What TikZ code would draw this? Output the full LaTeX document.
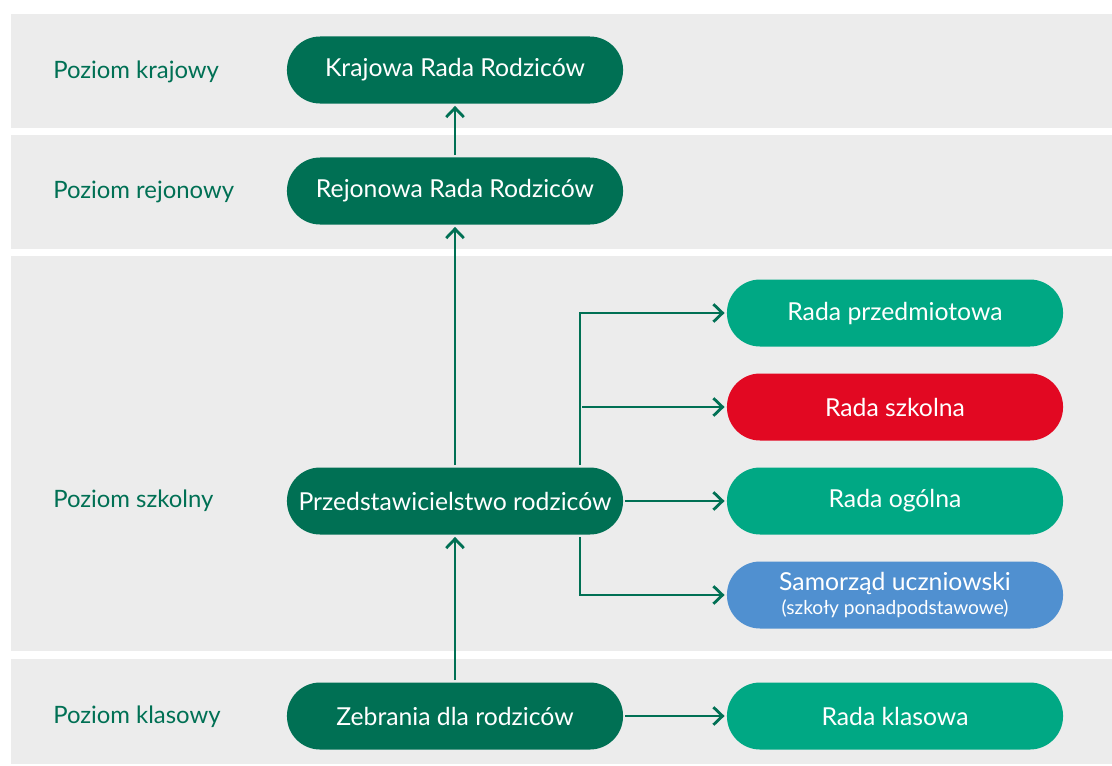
\documentclass[tikz,border=0pt]{standalone}
\usepackage{fontspec}
\setmainfont{Lato}
\usetikzlibrary{shapes,arrows.meta,positioning}

\definecolor{darkgreen}{RGB}{0,112,84}
\definecolor{midgreen}{RGB}{0,168,132}
\definecolor{schoolred}{RGB}{226,8,34}
\definecolor{skyblue}{RGB}{80,144,208}
\definecolor{bandgray}{RGB}{236,236,236}

\begin{document}
\begin{tikzpicture}[x=0.025cm, y=-0.025cm,
    band/.style={fill=bandgray},
    pill/.style={rectangle, rounded corners=0.83cm, minimum width=8.4cm, minimum height=1.675cm, inner sep=0pt, text=white, align=center, font=\fontsize{17.6}{20}\selectfont},
    darkpill/.style={pill, fill=darkgreen},
    lightpill/.style={pill, fill=midgreen},
    redpill/.style={pill, fill=schoolred},
    bluepill/.style={pill, fill=skyblue},
    level/.style={anchor=west, inner sep=0pt, text=darkgreen, font=\fontsize{17}{20}\selectfont},
    link/.style={draw=darkgreen, line width=2pt, shorten <=1.5pt, shorten >=1.5pt, -{Straight Barb[length=6.5pt,width=12.5pt]}}]
    \useasboundingbox (0,0) rectangle (1112,765);

    % level bands
    \fill[band] (11,14) rectangle (1112,128);
    \fill[band] (11,135) rectangle (1112,249);
    \fill[band] (11,256) rectangle (1112,651);
    \fill[band] (11,659) rectangle (1112,764);

    \node (krajowy) [level] at (53,72) {Poziom krajowy};
    \node (rejonowy) [level] at (53,192) {Poziom rejonowy};
    \node (szkolny) [level] at (53,501) {Poziom szkolny};
    \node (klasowy) [level] at (53,717) {Poziom klasowy};

    \node (krajowa) [darkpill] at (455,70) {Krajowa Rada Rodziców};
    \node (rejonowa) [darkpill] at (455,191) {Rejonowa Rada Rodziców};
    \node (przedst) [darkpill] at (455,501) {Przedstawicielstwo rodziców};
    \node (zebrania) [darkpill] at (455,716) {Zebrania dla rodziców};

    \node (przedmiotowa) [lightpill] at (895,313) {Rada przedmiotowa};
    \node (szkolna) [redpill] at (895,407) {Rada szkolna};
    \node (ogolna) [lightpill] at (895,501) {Rada ogólna};
    \node (samorzad) [bluepill] at (895,595) {Samorząd uczniowski\\[-3pt]{\fontsize{13.6}{15}\selectfont(szkoły ponadpodstawowe)}};
    \node (klasowa) [lightpill] at (895,716) {Rada klasowa};

    \coordinate (forkup) at ([xshift=3.125cm]przedst.north);
    \coordinate (forkdown) at ([xshift=3.125cm]przedst.south);

    \draw[link] (zebrania) -- (przedst);
    \draw[link] (przedst) -- (rejonowa);
    \draw[link] (rejonowa) -- (krajowa);
    \draw[link] (przedst) -- (ogolna);
    \draw[link] (zebrania) -- (klasowa);
    \draw[link] (forkup) |- (przedmiotowa);
    \draw[link] (forkup |- szkolna) -- (szkolna);
    \draw[link] (forkdown) |- (samorzad);
\end{tikzpicture}
\end{document}
